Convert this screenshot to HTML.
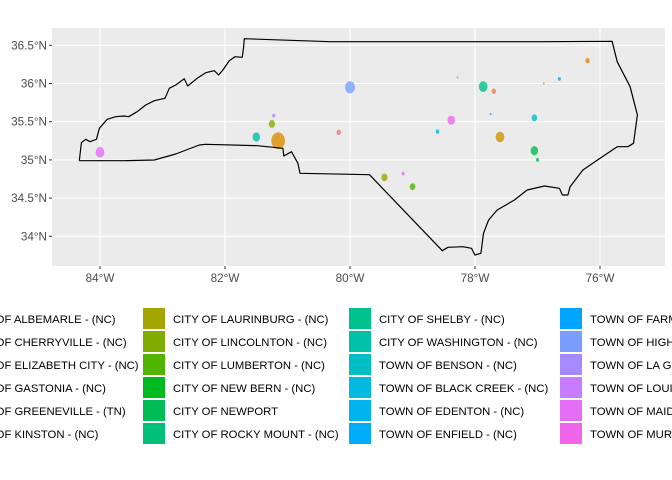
<!DOCTYPE html>
<html><head><meta charset="utf-8"><style>
body{margin:0;background:#fff;}
svg{display:block;font-family:"Liberation Sans",sans-serif;}
</style></head><body>
<svg id="chart" width="672" height="480" viewBox="0 0 672 480" xmlns="http://www.w3.org/2000/svg"></svg>
<script>
const lonTicks=[-84,-82,-80,-78,-76];
const lonLabels=["84°W","82°W","80°W","78°W","76°W"];
const latTicks=[36.5,36,35.5,35,34.5,34];
const latLabels=["36.5°N","36°N","35.5°N","35°N","34.5°N","34°N"];
const legendNames=[
"CITY OF ALBEMARLE - (NC)","CITY OF CHERRYVILLE - (NC)","CITY OF ELIZABETH CITY - (NC)","CITY OF GASTONIA - (NC)","CITY OF GREENEVILLE - (TN)","CITY OF KINSTON - (NC)",
"CITY OF LAURINBURG - (NC)","CITY OF LINCOLNTON - (NC)","CITY OF LUMBERTON - (NC)","CITY OF NEW BERN - (NC)","CITY OF NEWPORT","CITY OF ROCKY MOUNT - (NC)",
"CITY OF SHELBY - (NC)","CITY OF WASHINGTON - (NC)","TOWN OF BENSON - (NC)","TOWN OF BLACK CREEK - (NC)","TOWN OF EDENTON - (NC)","TOWN OF ENFIELD - (NC)",
"TOWN OF FARMVILLE - (NC)","TOWN OF HIGH POINT - (NC)","TOWN OF LA GRANGE - (NC)","TOWN OF LOUISBURG - (NC)","TOWN OF MAIDEN - (NC)","TOWN OF MURPHY - (NC)"];
const legendColors=["#F8766D","#F17E4F","#E7861B","#DB8E00","#CE9700","#BB9D00",
"#A3A500","#80AD00","#53B400","#00BA22","#00BC56","#00C079",
"#00C08D","#00C1AA","#00BFC4","#00BAE0","#00B4EF","#00ADFA",
"#00A5FF","#7B9DFF","#A58AFF","#C77CFF","#E36EF6","#F066EA"];
const blobLon=[-81.15,-81.5,-81.25,-80.0,-84.0,-80.18,-77.87,-77.6,-77.05,-77.05,-79.45,-79.0,-78.38,-77.7,-78.6,-76.2,-76.65,-81.22,-79.15,-78.28,-77.0,-77.75,-76.9];
const blobLat=[35.25,35.3,35.47,35.95,35.1,35.36,35.96,35.3,35.12,35.55,34.77,34.65,35.52,35.9,35.37,36.3,36.06,35.58,34.82,36.08,35.0,35.6,36.0];
const blobR=[0.11,0.06,0.05,0.08,0.07,0.035,0.07,0.07,0.06,0.045,0.05,0.045,0.06,0.035,0.03,0.035,0.025,0.025,0.025,0.015,0.025,0.015,0.015];
const blobColor=[3,13,7,19,22,0,12,4,10,14,6,8,23,1,15,2,16,20,22,21,10,17,1];
const outline=[[185,482],[190,428],[200,418],[210,425],[225,418],[232,385],[250,358],[270,350],[290,348],[300,350],[320,335],[340,315],[360,302],[385,295],[395,265],[410,255],[430,236],[438,258],[460,235],[480,218],[500,212],[510,225],[520,210],[535,182],[548,170],[565,172],[568,145],[570,116],[770,125],[1260,125],[1428,124],[1440,185],[1470,260],[1487,345],[1478,430],[1465,440],[1440,440],[1400,475],[1360,510],[1330,560],[1325,585],[1312,585],[1305,565],[1270,558],[1230,570],[1200,600],[1160,630],[1140,660],[1128,700],[1122,760],[1108,765],[1100,745],[1080,740],[1045,742],[1032,752],[862,524],[700,520],[695,490],[680,455],[662,468],[660,445],[600,437],[480,433],[465,435],[410,462],[360,480],[290,482],[185,482]];

const NS="http://www.w3.org/2000/svg";
const svg=document.getElementById('chart');
function mk(t,a,p){const e=document.createElementNS(NS,t);for(const k in a)e.setAttribute(k,a[k]);(p||svg).appendChild(e);return e;}
const PL=52,PR=665,PT=28,PB=266;
const xs=lon=>100+(lon+84)*62.5;
const ys=lat=>45.3+(36.5-lat)*76.4;

const panel=mk('rect',{x:PL,y:PT,width:PR-PL,height:PB-PT,fill:'#EBEBEB'});


lonTicks.forEach((v,i)=>{
  const g=mk('line',{x1:xs(v),x2:xs(v),y1:PT,y2:PB,stroke:'#fff','stroke-width':1.1});
  
  
  const t=mk('line',{x1:xs(v),x2:xs(v),y1:PB,y2:PB+3,stroke:'#333','stroke-width':1});
  
  
  const l=mk('text',{x:xs(v),y:282,'text-anchor':'middle','font-size':11.7,fill:'#4D4D4D'});
  l.textContent=lonLabels[i];
  
  
});
latTicks.forEach((v,i)=>{
  const g=mk('line',{x1:PL,x2:PR,y1:ys(v),y2:ys(v),stroke:'#fff','stroke-width':1.1});
  
  
  const t=mk('line',{x1:PL-3,x2:PL,y1:ys(v),y2:ys(v),stroke:'#333','stroke-width':1});
  
  
  const l=mk('text',{x:PL-5,y:ys(v)+4,'text-anchor':'end','font-size':11.7,fill:'#4D4D4D'});
  l.textContent=latLabels[i];
  
  
});
blobLon.forEach((lon,i)=>{
  const r=blobR[i];
  const b=mk('ellipse',{cx:xs(lon),cy:ys(blobLat[i]),rx:r*62.5,ry:r*76.4,fill:legendColors[blobColor[i]],opacity:0.8});
  
  
});
const st=mk('polyline',{points:outline.map(p=>(p[0]/2.333).toFixed(1)+','+(p[1]/3).toFixed(1)).join(' '),fill:'none',stroke:'#000','stroke-width':1.2,'stroke-linejoin':'round'});



const colKeyX=[-63,143,349,560];
legendNames.forEach((n,i)=>{
  const c=Math.floor(i/6),r=i%6;
  const y=308+r*23;
  const k=mk('rect',{x:colKeyX[c],y:y,width:22,height:21,fill:legendColors[i]});
  
  
  const t=mk('text',{x:colKeyX[c]+30,y:y+15,'font-size':11.3,fill:'#000'});
  t.textContent=n;
  
  
});
</script>
</body></html>
